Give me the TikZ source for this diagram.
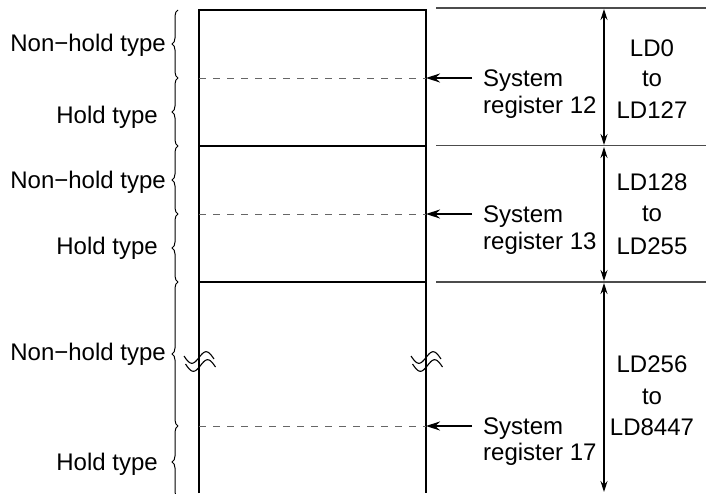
\documentclass[tikz,border=0pt]{standalone}
\usepackage{fontspec}
\setmainfont{Liberation Sans}
\usetikzlibrary{arrows.meta,decorations.pathreplacing}
\begin{document}
\begin{tikzpicture}[x=1pt,y=-1pt,
  lbl/.style={inner sep=0pt, text height=17pt, text depth=0pt, font=\fontsize{24}{28}\selectfont},
  wall/.style={line width=2pt, black},
  rule/.style={line width=1.2pt, black!70},
  regline/.style={dash pattern=on 7pt off 7pt, line width=1pt, black!60},
  regarrow/.style={-{Stealth[length=14pt,width=9pt]}, line width=1.1pt},
  dimarrow/.style={{Stealth[length=11pt,width=7pt]}-{Stealth[length=11pt,width=7pt]}, line width=1.1pt},
  grp/.style={decorate, decoration={brace, amplitude=6pt}, line width=1pt},
  brk/.style={line width=1.1pt}
]
\useasboundingbox (0,0) rectangle (706,493);

% memory area outline (open at the bottom)
\coordinate (bTL) at (199,10);  \coordinate (bTR) at (426,10);
\coordinate (bBL) at (199,493); \coordinate (bBR) at (426,493);
\coordinate (m1L) at (199,146); \coordinate (m1R) at (426,146);
\coordinate (m2L) at (199,282); \coordinate (m2R) at (426,282);
\draw[wall] (bBL) -- (bTL) -- (bTR) -- (bBR);
\draw[wall] (m1L) -- (m1R);
\draw[wall] (m2L) -- (m2R);

% hold / non-hold boundaries
\coordinate (r12L) at (199,78);  \coordinate (r12R) at (426,78);
\coordinate (r13L) at (199,214); \coordinate (r13R) at (426,214);
\coordinate (r17L) at (199,426); \coordinate (r17R) at (426,426);
\draw[regline] (r12L) -- (r12R);
\draw[regline] (r13L) -- (r13R);
\draw[regline] (r17L) -- (r17R);

% break marks on both walls: two parallel sine waves
\foreach \cx in {199,426}{
  \draw[brk] plot[domain=-15:15, samples=40, smooth] ({\cx+\x}, {357.5+0.1*\x-6.5*sin(12*\x)});
  \draw[brk] plot[domain=-15:15, samples=40, smooth] ({\cx+1.5+\x}, {365.5+0.1*\x-6.5*sin(12*\x)});
}

% braces for the left labels
\foreach \ya/\yb in {10/78,78/146,146/214,214/282,282/426,426/498}{
  \draw[grp] (178,\yb) -- (178,\ya);
}
\node[lbl, anchor=east] (nh1) at (166,43)  {Non−hold type};
\node[lbl, anchor=east] (h1)  at (158,115) {Hold type};
\node[lbl, anchor=east] (nh2) at (166,180) {Non−hold type};
\node[lbl, anchor=east] (h2)  at (158,246) {Hold type};
\node[lbl, anchor=east] (nh3) at (166,352) {Non−hold type};
\node[lbl, anchor=east] (h3)  at (158,462) {Hold type};

% system register labels and pointers
\node[lbl, anchor=west] (sys12) at (483,78)  {System};
\node[lbl, anchor=west] (reg12) at (483,105) {register 12};
\node[lbl, anchor=west] (sys13) at (483,214) {System};
\node[lbl, anchor=west] (reg13) at (483,241) {register 13};
\node[lbl, anchor=west] (sys17) at (483,426) {System};
\node[lbl, anchor=west] (reg17) at (483,452) {register 17};
\draw[regarrow, shorten <=11pt] (sys12.west) -- (r12R);
\draw[regarrow, shorten <=11pt] (sys13.west) -- (r13R);
\draw[regarrow, shorten <=11pt] (sys17.west) -- (r17R);

% range boundaries on the right
\coordinate (h0L) at (436,8);     \coordinate (h0R) at (706,8);
\coordinate (h1L) at (436,145.5); \coordinate (h1R) at (706,145.5);
\coordinate (h2L) at (436,282);   \coordinate (h2R) at (706,282);
\draw[rule] (h0L) -- (h0R);
\draw[rule] (h1L) -- (h1R);
\draw[rule] (h2L) -- (h2R);

% range dimension arrows
\coordinate (d0) at (604,9);   \coordinate (d1) at (604,145);
\coordinate (d2) at (604,147); \coordinate (d3) at (604,281);
\coordinate (d4) at (604,283); \coordinate (d5) at (604,492);
\draw[dimarrow] (d0) -- (d1);
\draw[dimarrow] (d2) -- (d3);
\draw[dimarrow] (d4) -- (d5);

% range labels
\node[lbl] (lda1) at (652,48)  {LD0};
\node[lbl] (ldt1) at (652,78)  {to};
\node[lbl] (ldb1) at (652,110) {LD127};
\node[lbl] (lda2) at (652,182) {LD128};
\node[lbl] (ldt2) at (652,213) {to};
\node[lbl] (ldb2) at (652,246) {LD255};
\node[lbl] (lda3) at (652,364) {LD256};
\node[lbl] (ldt3) at (652,396) {to};
\node[lbl] (ldb3) at (652,427) {LD8447};
\end{tikzpicture}
\end{document}
